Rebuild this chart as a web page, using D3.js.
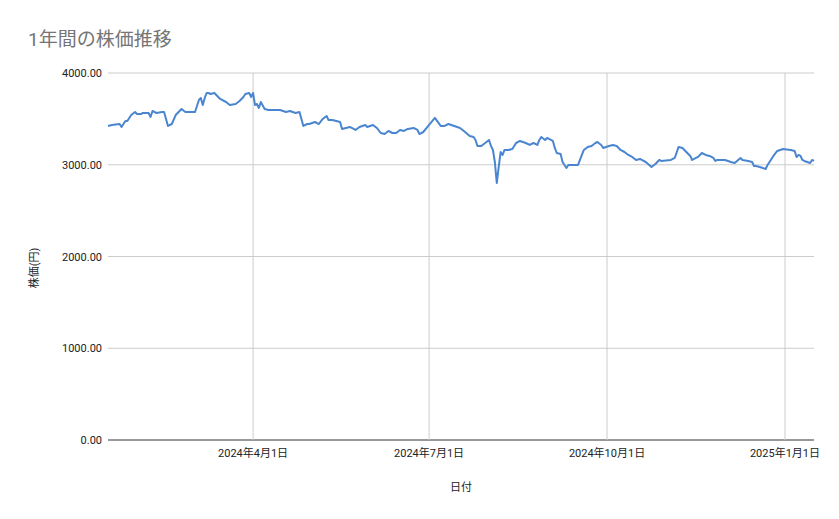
<!DOCTYPE html><html><head><meta charset="utf-8"><script src="https://cdn.jsdelivr.net/npm/d3@7"></script>
<style>body{margin:0;background:#fff}text{font-family:Roboto,"Noto Sans CJK JP",sans-serif}</style></head><body><svg id="c" width="839" height="519"></svg><script>
const startDate="2024-01-17";
const dayOffsets=[0,2,6,7,9,10,12,14,15,17,18,21,22,23,25,28,29,31,33,35,38,40,42,44,45,47,48,49,50,51,52,53,55,56,58,61,63,66,68,70,71,73,74,75,76,77,78,79,81,83,86,89,92,94,97,99,101,103,104,107,109,111,113,114,116,120,121,123,125,128,130,133,134,137,139,141,143,145,147,149,151,153,155,158,160,161,163,166,169,172,174,176,179,182,184,187,189,190,191,193,195,197,198,199,200,201,202,203,204,205,207,209,211,213,216,218,220,222,223,224,226,227,230,231,232,234,235,237,238,241,243,246,248,250,252,253,255,256,259,261,263,265,267,269,271,273,275,278,281,283,285,286,291,293,295,297,299,301,302,305,307,309,311,313,314,315,319,322,324,327,328,331,333,334,335,337,340,341,344,346,349,353,355,356,357,358,359,360,363,364,365];
const prices=[3423,3434,3444,3412,3477,3477,3542,3575,3553,3553,3564,3564,3521,3586,3564,3575,3575,3423,3444,3542,3608,3575,3575,3575,3575,3706,3728,3652,3728,3782,3782,3771,3782,3760,3717,3684,3652,3662,3695,3739,3771,3782,3739,3782,3652,3662,3619,3684,3608,3597,3597,3597,3575,3586,3564,3575,3423,3444,3444,3466,3444,3499,3532,3488,3488,3466,3390,3401,3412,3379,3412,3434,3412,3434,3401,3346,3335,3368,3346,3346,3379,3368,3390,3401,3379,3335,3357,3434,3510,3423,3423,3444,3423,3401,3368,3314,3303,3270,3205,3205,3237,3270,3205,3161,3030,2801,2976,3139,3107,3161,3161,3172,3237,3259,3237,3216,3237,3216,3270,3303,3270,3292,3259,3183,3128,3117,3030,2965,2998,2998,2998,3161,3194,3205,3237,3248,3216,3183,3205,3216,3205,3161,3139,3107,3085,3052,3063,3030,2976,3008,3052,3041,3052,3074,3194,3183,3139,3096,3052,3085,3128,3107,3096,3074,3041,3052,3052,3030,3019,3074,3052,3041,3030,2987,2987,2976,2954,2998,3096,3150,3172,3161,3150,3085,3107,3096,3052,3041,3019,3052,3041];
const yTicks=[0,1000,2000,3000,4000];
const xTicks=["2024-04-01","2024-07-01","2024-10-01","2025-01-01"];
const svg=d3.select("#c");
const p=d3.timeParse("%Y-%m-%d"),s0=p(startDate);
const data=dayOffsets.map((d,i)=>({date:d3.timeDay.offset(s0,d),v:prices[i]}));
const x=d3.scaleTime().domain([s0,d3.timeDay.offset(s0,365)]).range([108,814]);
const y=d3.scaleLinear().domain([0,4000]).range([440,73]);
svg.append("text").attr("x",28).attr("y",46).attr("font-size",19).attr("fill","#757575").text("1年間の株価推移");
svg.selectAll(".hg").data(yTicks).join("line").attr("x1",108).attr("x2",814).attr("y1",d=>y(d)).attr("y2",d=>y(d)).attr("stroke",d=>d===0?"#333":"#ccc");
svg.selectAll(".vg").data(xTicks).join("line").attr("x1",d=>x(p(d))).attr("x2",d=>x(p(d))).attr("y1",73).attr("y2",440).attr("stroke","#ccc");
svg.selectAll(".yl").data(yTicks).join("text").attr("x",102).attr("y",d=>y(d)+4).attr("text-anchor","end").attr("font-size",11).attr("fill","#222").text(d=>d3.format(".2f")(d));
svg.selectAll(".xl").data(xTicks).join("text").attr("x",d=>x(p(d))).attr("y",457).attr("text-anchor","middle").attr("font-size",11).attr("fill","#222").text(d=>{const t=p(d);return `${t.getFullYear()}年${t.getMonth()+1}月${t.getDate()}日`;});
svg.append("text").attr("x",461).attr("y",491).attr("text-anchor","middle").attr("font-size",11).attr("fill","#222").text("日付");
svg.append("text").attr("transform","translate(38,268) rotate(-90)").attr("text-anchor","middle").attr("font-size",11).attr("fill","#222").text("株価(円)");
svg.append("path").datum(data).attr("fill","none").attr("stroke","#4a86d0").attr("stroke-width",2).attr("stroke-linejoin","round").attr("d",d3.line().x(d=>x(d.date)).y(d=>y(d.v)));
</script></body></html>
